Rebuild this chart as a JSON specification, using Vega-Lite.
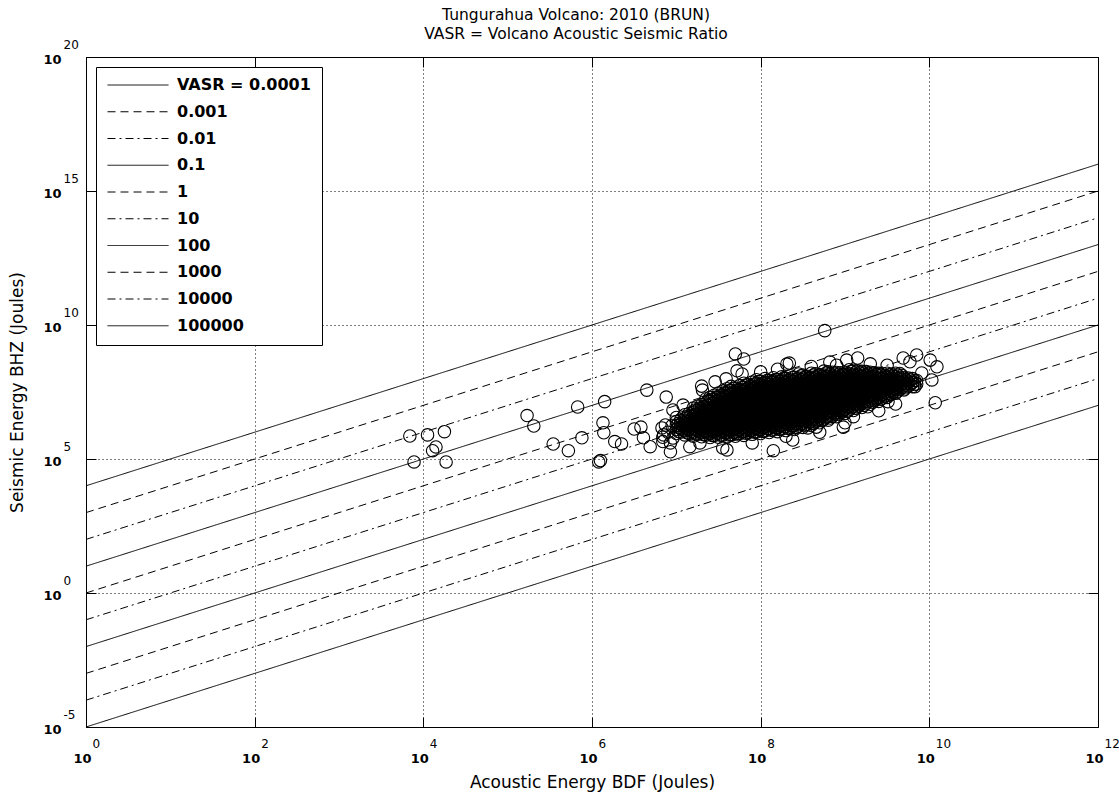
{
"$schema": "https://vega.github.io/schema/vega-lite/v6.json",
"width": 1012, "height": 670,
"autosize": {"type": "none"},
"padding": {"left": 86, "top": 57, "right": 21, "bottom": 66},
"background": "white",
"title": {"text": ["Tungurahua Volcano: 2010 (BRUN)", "VASR = Volcano Acoustic Seismic Ratio"], "frame": "group", "anchor": "middle", "baseline": "bottom", "offset": -20, "dx": -16, "font": "DejaVu Sans", "fontSize": 15.5, "fontWeight": "normal", "color": "#000", "lineHeight": 19.6},
"config": {
  "view": {"stroke": "#000", "strokeWidth": 1},
  "axis": {"domain": false, "labelFont": "DejaVu Sans", "labelColor": "#000", "tickColor": "#000", "labelOverlap": false, "labelFlush": false, "labelBound": false, "titleColor": "#000", "titleFont": "DejaVu Sans", "titleFontWeight": "normal"},
  "legend": {"labelFont": "DejaVu Sans", "labelColor": "#000"}
},
"datasets": {
"vasr_lines": [
{"vasr":0.0001,"logA":0,"logS":4},{"vasr":0.0001,"logA":12,"logS":16},
{"vasr":0.001,"logA":0,"logS":3},{"vasr":0.001,"logA":12,"logS":15},
{"vasr":0.01,"logA":0,"logS":2},{"vasr":0.01,"logA":12,"logS":14},
{"vasr":0.1,"logA":0,"logS":1},{"vasr":0.1,"logA":12,"logS":13},
{"vasr":1,"logA":0,"logS":0},{"vasr":1,"logA":12,"logS":12},
{"vasr":10,"logA":0,"logS":-1},{"vasr":10,"logA":12,"logS":11},
{"vasr":100,"logA":0,"logS":-2},{"vasr":100,"logA":12,"logS":10},
{"vasr":1000,"logA":0,"logS":-3},{"vasr":1000,"logA":12,"logS":9},
{"vasr":10000,"logA":0,"logS":-4},{"vasr":10000,"logA":12,"logS":8},
{"vasr":100000,"logA":0,"logS":-5},{"vasr":100000,"logA":12,"logS":7}
],
"energy": [
{"logA":3.84,"logS":5.86},{"logA":4.05,"logS":5.9},{"logA":4.25,"logS":6.02},{"logA":4.15,"logS":5.45},{"logA":4.11,"logS":5.31},{"logA":3.89,"logS":4.89},{"logA":4.27,"logS":4.89},
{"logA":5.23,"logS":6.62},{"logA":5.31,"logS":6.23},{"logA":5.83,"logS":6.94},{"logA":6.15,"logS":7.14},{"logA":6.13,"logS":6.35},{"logA":6.14,"logS":5.98},{"logA":5.88,"logS":5.79},{"logA":5.54,"logS":5.56},{"logA":5.72,"logS":5.31},{"logA":6.27,"logS":5.65},{"logA":6.35,"logS":5.56},{"logA":6.1,"logS":4.94},{"logA":6.08,"logS":4.89},
{"logA":6.5,"logS":6.12},{"logA":6.58,"logS":6.19},{"logA":6.61,"logS":5.79},{"logA":6.69,"logS":5.46},{"logA":6.83,"logS":6.16},{"logA":6.93,"logS":5.27},
{"logA":8.76,"logS":9.79},{"logA":7.7,"logS":8.92},{"logA":7.8,"logS":8.73},{"logA":6.65,"logS":7.57},{"logA":6.88,"logS":7.31},{"logA":7.72,"logS":8.29},{"logA":7.78,"logS":8.17},{"logA":7.59,"logS":7.99},{"logA":7.46,"logS":7.88},{"logA":7.3,"logS":7.72},{"logA":7.31,"logS":7.57},{"logA":8.34,"logS":8.58},{"logA":8.82,"logS":8.62},{"logA":9.02,"logS":8.69},{"logA":9.15,"logS":8.77},
{"logA":6.84,"logS":5.65},{"logA":6.93,"logS":5.6},{"logA":7.16,"logS":5.46},{"logA":7.28,"logS":5.6},{"logA":7.55,"logS":5.41},{"logA":7.6,"logS":5.34},{"logA":8.15,"logS":5.31},{"logA":8.38,"logS":5.71},{"logA":8.56,"logS":6.16},{"logA":8.66,"logS":6.19},{"logA":8.98,"logS":6.19},{"logA":9.1,"logS":6.58},{"logA":6.96,"logS":6.83},{"logA":7.08,"logS":7.01},
{"logA":8.31,"logS":8.54},{"logA":9.69,"logS":8.77},{"logA":9.85,"logS":8.88},{"logA":10.01,"logS":8.69},{"logA":10.09,"logS":8.44},{"logA":10.03,"logS":7.95},{"logA":9.83,"logS":7.7},{"logA":10.07,"logS":7.1},{"logA":9.51,"logS":7.14},{"logA":9.77,"logS":8.63},{"logA":9.91,"logS":8.21},{"logA":9.27,"logS":6.95},
{"logA":8.0,"logS":8.25},{"logA":8.2,"logS":8.35},{"logA":8.6,"logS":8.45},{"logA":8.9,"logS":8.5},{"logA":9.3,"logS":8.55},{"logA":9.5,"logS":8.5},{"logA":7.9,"logS":5.6},{"logA":8.3,"logS":5.85},{"logA":8.7,"logS":6.0},{"logA":9.0,"logS":6.35},{"logA":9.4,"logS":6.8},{"logA":9.6,"logS":7.05},{"logA":6.9,"logS":6.0},{"logA":6.95,"logS":6.25},{"logA":7.0,"logS":6.55},{"logA":6.85,"logS":5.9},{"logA":6.84,"logS":5.81},{"logA":6.96,"logS":5.78},{"logA":6.87,"logS":6.27},
{"logA":7.0,"logS":5.95},{"logA":7.0,"logS":6.1},{"logA":7.0,"logS":6.25},{"logA":7.0,"logS":6.4},
{"logA":7.05,"logS":6.0},{"logA":7.05,"logS":6.15},{"logA":7.05,"logS":6.3},{"logA":7.05,"logS":6.45},
{"logA":7.1,"logS":5.9},{"logA":7.1,"logS":6.05},{"logA":7.1,"logS":6.2},{"logA":7.1,"logS":6.35},{"logA":7.1,"logS":6.5},{"logA":7.1,"logS":6.65},
{"logA":7.15,"logS":5.95},{"logA":7.15,"logS":6.1},{"logA":7.15,"logS":6.25},{"logA":7.15,"logS":6.4},{"logA":7.15,"logS":6.55},{"logA":7.15,"logS":6.7},
{"logA":7.2,"logS":5.85},{"logA":7.2,"logS":6.0},{"logA":7.2,"logS":6.15},{"logA":7.2,"logS":6.3},{"logA":7.2,"logS":6.45},{"logA":7.2,"logS":6.6},{"logA":7.2,"logS":6.75},{"logA":7.2,"logS":6.9},
{"logA":7.25,"logS":5.92},{"logA":7.25,"logS":6.07},{"logA":7.25,"logS":6.22},{"logA":7.25,"logS":6.37},{"logA":7.25,"logS":6.52},{"logA":7.25,"logS":6.67},{"logA":7.25,"logS":6.82},{"logA":7.25,"logS":6.97},
{"logA":7.3,"logS":5.83},{"logA":7.3,"logS":5.98},{"logA":7.3,"logS":6.13},{"logA":7.3,"logS":6.28},{"logA":7.3,"logS":6.43},{"logA":7.3,"logS":6.58},{"logA":7.3,"logS":6.73},{"logA":7.3,"logS":6.88},{"logA":7.3,"logS":7.03},
{"logA":7.35,"logS":5.89},{"logA":7.35,"logS":6.04},{"logA":7.35,"logS":6.19},{"logA":7.35,"logS":6.34},{"logA":7.35,"logS":6.49},{"logA":7.35,"logS":6.64},{"logA":7.35,"logS":6.79},{"logA":7.35,"logS":6.94},{"logA":7.35,"logS":7.09},{"logA":7.35,"logS":7.24},
{"logA":7.4,"logS":5.8},{"logA":7.4,"logS":5.95},{"logA":7.4,"logS":6.1},{"logA":7.4,"logS":6.25},{"logA":7.4,"logS":6.4},{"logA":7.4,"logS":6.55},{"logA":7.4,"logS":6.7},{"logA":7.4,"logS":6.85},{"logA":7.4,"logS":7.0},{"logA":7.4,"logS":7.15},{"logA":7.4,"logS":7.3},
{"logA":7.45,"logS":5.88},{"logA":7.45,"logS":6.03},{"logA":7.45,"logS":6.18},{"logA":7.45,"logS":6.33},{"logA":7.45,"logS":6.48},{"logA":7.45,"logS":6.63},{"logA":7.45,"logS":6.78},{"logA":7.45,"logS":6.93},{"logA":7.45,"logS":7.08},{"logA":7.45,"logS":7.23},{"logA":7.45,"logS":7.38},
{"logA":7.5,"logS":5.81},{"logA":7.5,"logS":5.96},{"logA":7.5,"logS":6.11},{"logA":7.5,"logS":6.26},{"logA":7.5,"logS":6.41},{"logA":7.5,"logS":6.56},{"logA":7.5,"logS":6.71},{"logA":7.5,"logS":6.86},{"logA":7.5,"logS":7.01},{"logA":7.5,"logS":7.16},{"logA":7.5,"logS":7.31},{"logA":7.5,"logS":7.46},
{"logA":7.55,"logS":5.89},{"logA":7.55,"logS":6.04},{"logA":7.55,"logS":6.19},{"logA":7.55,"logS":6.34},{"logA":7.55,"logS":6.49},{"logA":7.55,"logS":6.64},{"logA":7.55,"logS":6.79},{"logA":7.55,"logS":6.94},{"logA":7.55,"logS":7.09},{"logA":7.55,"logS":7.24},{"logA":7.55,"logS":7.39},{"logA":7.55,"logS":7.54},
{"logA":7.6,"logS":5.82},{"logA":7.6,"logS":5.97},{"logA":7.6,"logS":6.12},{"logA":7.6,"logS":6.27},{"logA":7.6,"logS":6.42},{"logA":7.6,"logS":6.57},{"logA":7.6,"logS":6.72},{"logA":7.6,"logS":6.87},{"logA":7.6,"logS":7.02},{"logA":7.6,"logS":7.17},{"logA":7.6,"logS":7.32},{"logA":7.6,"logS":7.47},{"logA":7.6,"logS":7.62},
{"logA":7.65,"logS":5.91},{"logA":7.65,"logS":6.06},{"logA":7.65,"logS":6.21},{"logA":7.65,"logS":6.36},{"logA":7.65,"logS":6.51},{"logA":7.65,"logS":6.66},{"logA":7.65,"logS":6.81},{"logA":7.65,"logS":6.96},{"logA":7.65,"logS":7.11},{"logA":7.65,"logS":7.26},{"logA":7.65,"logS":7.41},{"logA":7.65,"logS":7.56},{"logA":7.65,"logS":7.71},
{"logA":7.7,"logS":5.85},{"logA":7.7,"logS":6.0},{"logA":7.7,"logS":6.15},{"logA":7.7,"logS":6.3},{"logA":7.7,"logS":6.45},{"logA":7.7,"logS":6.6},{"logA":7.7,"logS":6.75},{"logA":7.7,"logS":6.9},{"logA":7.7,"logS":7.05},{"logA":7.7,"logS":7.2},{"logA":7.7,"logS":7.35},{"logA":7.7,"logS":7.5},{"logA":7.7,"logS":7.65},
{"logA":7.75,"logS":5.94},{"logA":7.75,"logS":6.09},{"logA":7.75,"logS":6.24},{"logA":7.75,"logS":6.39},{"logA":7.75,"logS":6.54},{"logA":7.75,"logS":6.69},{"logA":7.75,"logS":6.84},{"logA":7.75,"logS":6.99},{"logA":7.75,"logS":7.14},{"logA":7.75,"logS":7.29},{"logA":7.75,"logS":7.44},{"logA":7.75,"logS":7.59},{"logA":7.75,"logS":7.74},
{"logA":7.8,"logS":5.88},{"logA":7.8,"logS":6.03},{"logA":7.8,"logS":6.18},{"logA":7.8,"logS":6.33},{"logA":7.8,"logS":6.48},{"logA":7.8,"logS":6.63},{"logA":7.8,"logS":6.78},{"logA":7.8,"logS":6.93},{"logA":7.8,"logS":7.08},{"logA":7.8,"logS":7.23},{"logA":7.8,"logS":7.38},{"logA":7.8,"logS":7.53},{"logA":7.8,"logS":7.68},{"logA":7.8,"logS":7.83},
{"logA":7.85,"logS":5.98},{"logA":7.85,"logS":6.13},{"logA":7.85,"logS":6.28},{"logA":7.85,"logS":6.43},{"logA":7.85,"logS":6.58},{"logA":7.85,"logS":6.73},{"logA":7.85,"logS":6.88},{"logA":7.85,"logS":7.03},{"logA":7.85,"logS":7.18},{"logA":7.85,"logS":7.33},{"logA":7.85,"logS":7.48},{"logA":7.85,"logS":7.63},{"logA":7.85,"logS":7.78},
{"logA":7.9,"logS":5.92},{"logA":7.9,"logS":6.07},{"logA":7.9,"logS":6.22},{"logA":7.9,"logS":6.37},{"logA":7.9,"logS":6.52},{"logA":7.9,"logS":6.67},{"logA":7.9,"logS":6.82},{"logA":7.9,"logS":6.97},{"logA":7.9,"logS":7.12},{"logA":7.9,"logS":7.27},{"logA":7.9,"logS":7.42},{"logA":7.9,"logS":7.57},{"logA":7.9,"logS":7.72},{"logA":7.9,"logS":7.87},
{"logA":7.95,"logS":6.01},{"logA":7.95,"logS":6.16},{"logA":7.95,"logS":6.31},{"logA":7.95,"logS":6.46},{"logA":7.95,"logS":6.61},{"logA":7.95,"logS":6.76},{"logA":7.95,"logS":6.91},{"logA":7.95,"logS":7.06},{"logA":7.95,"logS":7.21},{"logA":7.95,"logS":7.36},{"logA":7.95,"logS":7.51},{"logA":7.95,"logS":7.66},{"logA":7.95,"logS":7.81},{"logA":7.95,"logS":7.96},
{"logA":8.0,"logS":5.95},{"logA":8.0,"logS":6.1},{"logA":8.0,"logS":6.25},{"logA":8.0,"logS":6.4},{"logA":8.0,"logS":6.55},{"logA":8.0,"logS":6.7},{"logA":8.0,"logS":6.85},{"logA":8.0,"logS":7.0},{"logA":8.0,"logS":7.15},{"logA":8.0,"logS":7.3},{"logA":8.0,"logS":7.45},{"logA":8.0,"logS":7.6},{"logA":8.0,"logS":7.75},{"logA":8.0,"logS":7.9},
{"logA":8.05,"logS":6.05},{"logA":8.05,"logS":6.2},{"logA":8.05,"logS":6.35},{"logA":8.05,"logS":6.5},{"logA":8.05,"logS":6.65},{"logA":8.05,"logS":6.8},{"logA":8.05,"logS":6.95},{"logA":8.05,"logS":7.1},{"logA":8.05,"logS":7.25},{"logA":8.05,"logS":7.4},{"logA":8.05,"logS":7.55},{"logA":8.05,"logS":7.7},{"logA":8.05,"logS":7.85},{"logA":8.05,"logS":8.0},
{"logA":8.1,"logS":5.99},{"logA":8.1,"logS":6.14},{"logA":8.1,"logS":6.29},{"logA":8.1,"logS":6.44},{"logA":8.1,"logS":6.59},{"logA":8.1,"logS":6.74},{"logA":8.1,"logS":6.89},{"logA":8.1,"logS":7.04},{"logA":8.1,"logS":7.19},{"logA":8.1,"logS":7.34},{"logA":8.1,"logS":7.49},{"logA":8.1,"logS":7.64},{"logA":8.1,"logS":7.79},{"logA":8.1,"logS":7.94},
{"logA":8.15,"logS":6.08},{"logA":8.15,"logS":6.23},{"logA":8.15,"logS":6.38},{"logA":8.15,"logS":6.53},{"logA":8.15,"logS":6.68},{"logA":8.15,"logS":6.83},{"logA":8.15,"logS":6.98},{"logA":8.15,"logS":7.13},{"logA":8.15,"logS":7.28},{"logA":8.15,"logS":7.43},{"logA":8.15,"logS":7.58},{"logA":8.15,"logS":7.73},{"logA":8.15,"logS":7.88},{"logA":8.15,"logS":8.03},
{"logA":8.2,"logS":6.02},{"logA":8.2,"logS":6.17},{"logA":8.2,"logS":6.32},{"logA":8.2,"logS":6.47},{"logA":8.2,"logS":6.62},{"logA":8.2,"logS":6.77},{"logA":8.2,"logS":6.92},{"logA":8.2,"logS":7.07},{"logA":8.2,"logS":7.22},{"logA":8.2,"logS":7.37},{"logA":8.2,"logS":7.52},{"logA":8.2,"logS":7.67},{"logA":8.2,"logS":7.82},{"logA":8.2,"logS":7.97},
{"logA":8.25,"logS":6.12},{"logA":8.25,"logS":6.27},{"logA":8.25,"logS":6.42},{"logA":8.25,"logS":6.57},{"logA":8.25,"logS":6.72},{"logA":8.25,"logS":6.87},{"logA":8.25,"logS":7.02},{"logA":8.25,"logS":7.17},{"logA":8.25,"logS":7.32},{"logA":8.25,"logS":7.47},{"logA":8.25,"logS":7.62},{"logA":8.25,"logS":7.77},{"logA":8.25,"logS":7.92},{"logA":8.25,"logS":8.07},
{"logA":8.3,"logS":6.06},{"logA":8.3,"logS":6.21},{"logA":8.3,"logS":6.36},{"logA":8.3,"logS":6.51},{"logA":8.3,"logS":6.66},{"logA":8.3,"logS":6.81},{"logA":8.3,"logS":6.96},{"logA":8.3,"logS":7.11},{"logA":8.3,"logS":7.26},{"logA":8.3,"logS":7.41},{"logA":8.3,"logS":7.56},{"logA":8.3,"logS":7.71},{"logA":8.3,"logS":7.86},{"logA":8.3,"logS":8.01},
{"logA":8.35,"logS":6.16},{"logA":8.35,"logS":6.31},{"logA":8.35,"logS":6.46},{"logA":8.35,"logS":6.61},{"logA":8.35,"logS":6.76},{"logA":8.35,"logS":6.91},{"logA":8.35,"logS":7.06},{"logA":8.35,"logS":7.21},{"logA":8.35,"logS":7.36},{"logA":8.35,"logS":7.51},{"logA":8.35,"logS":7.66},{"logA":8.35,"logS":7.81},{"logA":8.35,"logS":7.96},{"logA":8.35,"logS":8.11},
{"logA":8.4,"logS":6.1},{"logA":8.4,"logS":6.25},{"logA":8.4,"logS":6.4},{"logA":8.4,"logS":6.55},{"logA":8.4,"logS":6.7},{"logA":8.4,"logS":6.85},{"logA":8.4,"logS":7.0},{"logA":8.4,"logS":7.15},{"logA":8.4,"logS":7.3},{"logA":8.4,"logS":7.45},{"logA":8.4,"logS":7.6},{"logA":8.4,"logS":7.75},{"logA":8.4,"logS":7.9},{"logA":8.4,"logS":8.05},
{"logA":8.45,"logS":6.22},{"logA":8.45,"logS":6.37},{"logA":8.45,"logS":6.52},{"logA":8.45,"logS":6.67},{"logA":8.45,"logS":6.82},{"logA":8.45,"logS":6.97},{"logA":8.45,"logS":7.12},{"logA":8.45,"logS":7.27},{"logA":8.45,"logS":7.42},{"logA":8.45,"logS":7.57},{"logA":8.45,"logS":7.72},{"logA":8.45,"logS":7.87},{"logA":8.45,"logS":8.02},{"logA":8.45,"logS":8.17},
{"logA":8.5,"logS":6.18},{"logA":8.5,"logS":6.33},{"logA":8.5,"logS":6.48},{"logA":8.5,"logS":6.63},{"logA":8.5,"logS":6.78},{"logA":8.5,"logS":6.93},{"logA":8.5,"logS":7.08},{"logA":8.5,"logS":7.23},{"logA":8.5,"logS":7.38},{"logA":8.5,"logS":7.53},{"logA":8.5,"logS":7.68},{"logA":8.5,"logS":7.83},{"logA":8.5,"logS":7.98},{"logA":8.5,"logS":8.13},
{"logA":8.55,"logS":6.29},{"logA":8.55,"logS":6.44},{"logA":8.55,"logS":6.59},{"logA":8.55,"logS":6.74},{"logA":8.55,"logS":6.89},{"logA":8.55,"logS":7.04},{"logA":8.55,"logS":7.19},{"logA":8.55,"logS":7.34},{"logA":8.55,"logS":7.49},{"logA":8.55,"logS":7.64},{"logA":8.55,"logS":7.79},{"logA":8.55,"logS":7.94},{"logA":8.55,"logS":8.09},
{"logA":8.6,"logS":6.25},{"logA":8.6,"logS":6.4},{"logA":8.6,"logS":6.55},{"logA":8.6,"logS":6.7},{"logA":8.6,"logS":6.85},{"logA":8.6,"logS":7.0},{"logA":8.6,"logS":7.15},{"logA":8.6,"logS":7.3},{"logA":8.6,"logS":7.45},{"logA":8.6,"logS":7.6},{"logA":8.6,"logS":7.75},{"logA":8.6,"logS":7.9},{"logA":8.6,"logS":8.05},{"logA":8.6,"logS":8.2},
{"logA":8.65,"logS":6.38},{"logA":8.65,"logS":6.53},{"logA":8.65,"logS":6.68},{"logA":8.65,"logS":6.83},{"logA":8.65,"logS":6.98},{"logA":8.65,"logS":7.13},{"logA":8.65,"logS":7.28},{"logA":8.65,"logS":7.43},{"logA":8.65,"logS":7.58},{"logA":8.65,"logS":7.73},{"logA":8.65,"logS":7.88},{"logA":8.65,"logS":8.03},{"logA":8.65,"logS":8.18},
{"logA":8.7,"logS":6.35},{"logA":8.7,"logS":6.5},{"logA":8.7,"logS":6.65},{"logA":8.7,"logS":6.8},{"logA":8.7,"logS":6.95},{"logA":8.7,"logS":7.1},{"logA":8.7,"logS":7.25},{"logA":8.7,"logS":7.4},{"logA":8.7,"logS":7.55},{"logA":8.7,"logS":7.7},{"logA":8.7,"logS":7.85},{"logA":8.7,"logS":8.0},{"logA":8.7,"logS":8.15},
{"logA":8.75,"logS":6.48},{"logA":8.75,"logS":6.63},{"logA":8.75,"logS":6.78},{"logA":8.75,"logS":6.93},{"logA":8.75,"logS":7.08},{"logA":8.75,"logS":7.23},{"logA":8.75,"logS":7.38},{"logA":8.75,"logS":7.53},{"logA":8.75,"logS":7.68},{"logA":8.75,"logS":7.83},{"logA":8.75,"logS":7.98},{"logA":8.75,"logS":8.13},{"logA":8.75,"logS":8.28},
{"logA":8.8,"logS":6.45},{"logA":8.8,"logS":6.6},{"logA":8.8,"logS":6.75},{"logA":8.8,"logS":6.9},{"logA":8.8,"logS":7.05},{"logA":8.8,"logS":7.2},{"logA":8.8,"logS":7.35},{"logA":8.8,"logS":7.5},{"logA":8.8,"logS":7.65},{"logA":8.8,"logS":7.8},{"logA":8.8,"logS":7.95},{"logA":8.8,"logS":8.1},{"logA":8.8,"logS":8.25},
{"logA":8.85,"logS":6.59},{"logA":8.85,"logS":6.74},{"logA":8.85,"logS":6.89},{"logA":8.85,"logS":7.04},{"logA":8.85,"logS":7.19},{"logA":8.85,"logS":7.34},{"logA":8.85,"logS":7.49},{"logA":8.85,"logS":7.64},{"logA":8.85,"logS":7.79},{"logA":8.85,"logS":7.94},{"logA":8.85,"logS":8.09},{"logA":8.85,"logS":8.24},
{"logA":8.9,"logS":6.58},{"logA":8.9,"logS":6.73},{"logA":8.9,"logS":6.88},{"logA":8.9,"logS":7.03},{"logA":8.9,"logS":7.18},{"logA":8.9,"logS":7.33},{"logA":8.9,"logS":7.48},{"logA":8.9,"logS":7.63},{"logA":8.9,"logS":7.78},{"logA":8.9,"logS":7.93},{"logA":8.9,"logS":8.08},{"logA":8.9,"logS":8.23},
{"logA":8.95,"logS":6.72},{"logA":8.95,"logS":6.87},{"logA":8.95,"logS":7.02},{"logA":8.95,"logS":7.17},{"logA":8.95,"logS":7.32},{"logA":8.95,"logS":7.47},{"logA":8.95,"logS":7.62},{"logA":8.95,"logS":7.77},{"logA":8.95,"logS":7.92},{"logA":8.95,"logS":8.07},{"logA":8.95,"logS":8.22},
{"logA":9.0,"logS":6.7},{"logA":9.0,"logS":6.85},{"logA":9.0,"logS":7.0},{"logA":9.0,"logS":7.15},{"logA":9.0,"logS":7.3},{"logA":9.0,"logS":7.45},{"logA":9.0,"logS":7.6},{"logA":9.0,"logS":7.75},{"logA":9.0,"logS":7.9},{"logA":9.0,"logS":8.05},{"logA":9.0,"logS":8.2},
{"logA":9.05,"logS":6.83},{"logA":9.05,"logS":6.98},{"logA":9.05,"logS":7.13},{"logA":9.05,"logS":7.28},{"logA":9.05,"logS":7.43},{"logA":9.05,"logS":7.58},{"logA":9.05,"logS":7.73},{"logA":9.05,"logS":7.88},{"logA":9.05,"logS":8.03},{"logA":9.05,"logS":8.18},{"logA":9.05,"logS":8.33},
{"logA":9.1,"logS":6.81},{"logA":9.1,"logS":6.96},{"logA":9.1,"logS":7.11},{"logA":9.1,"logS":7.26},{"logA":9.1,"logS":7.41},{"logA":9.1,"logS":7.56},{"logA":9.1,"logS":7.71},{"logA":9.1,"logS":7.86},{"logA":9.1,"logS":8.01},{"logA":9.1,"logS":8.16},{"logA":9.1,"logS":8.31},
{"logA":9.15,"logS":6.94},{"logA":9.15,"logS":7.09},{"logA":9.15,"logS":7.24},{"logA":9.15,"logS":7.39},{"logA":9.15,"logS":7.54},{"logA":9.15,"logS":7.69},{"logA":9.15,"logS":7.84},{"logA":9.15,"logS":7.99},{"logA":9.15,"logS":8.14},{"logA":9.15,"logS":8.29},
{"logA":9.2,"logS":6.92},{"logA":9.2,"logS":7.07},{"logA":9.2,"logS":7.22},{"logA":9.2,"logS":7.37},{"logA":9.2,"logS":7.52},{"logA":9.2,"logS":7.67},{"logA":9.2,"logS":7.82},{"logA":9.2,"logS":7.97},{"logA":9.2,"logS":8.12},{"logA":9.2,"logS":8.27},
{"logA":9.25,"logS":7.06},{"logA":9.25,"logS":7.21},{"logA":9.25,"logS":7.36},{"logA":9.25,"logS":7.51},{"logA":9.25,"logS":7.66},{"logA":9.25,"logS":7.81},{"logA":9.25,"logS":7.96},{"logA":9.25,"logS":8.11},{"logA":9.25,"logS":8.26},
{"logA":9.3,"logS":7.04},{"logA":9.3,"logS":7.19},{"logA":9.3,"logS":7.34},{"logA":9.3,"logS":7.49},{"logA":9.3,"logS":7.64},{"logA":9.3,"logS":7.79},{"logA":9.3,"logS":7.94},{"logA":9.3,"logS":8.09},{"logA":9.3,"logS":8.24},
{"logA":9.35,"logS":7.17},{"logA":9.35,"logS":7.32},{"logA":9.35,"logS":7.47},{"logA":9.35,"logS":7.62},{"logA":9.35,"logS":7.77},{"logA":9.35,"logS":7.92},{"logA":9.35,"logS":8.07},{"logA":9.35,"logS":8.22},
{"logA":9.4,"logS":7.15},{"logA":9.4,"logS":7.3},{"logA":9.4,"logS":7.45},{"logA":9.4,"logS":7.6},{"logA":9.4,"logS":7.75},{"logA":9.4,"logS":7.9},{"logA":9.4,"logS":8.05},{"logA":9.4,"logS":8.2},
{"logA":9.45,"logS":7.28},{"logA":9.45,"logS":7.43},{"logA":9.45,"logS":7.58},{"logA":9.45,"logS":7.73},{"logA":9.45,"logS":7.88},{"logA":9.45,"logS":8.03},{"logA":9.45,"logS":8.18},
{"logA":9.5,"logS":7.3},{"logA":9.5,"logS":7.45},{"logA":9.5,"logS":7.6},{"logA":9.5,"logS":7.75},{"logA":9.5,"logS":7.9},{"logA":9.5,"logS":8.05},{"logA":9.5,"logS":8.2},
{"logA":9.55,"logS":7.42},{"logA":9.55,"logS":7.57},{"logA":9.55,"logS":7.72},{"logA":9.55,"logS":7.87},{"logA":9.55,"logS":8.02},{"logA":9.55,"logS":8.17},
{"logA":9.6,"logS":7.45},{"logA":9.6,"logS":7.6},{"logA":9.6,"logS":7.75},{"logA":9.6,"logS":7.9},{"logA":9.6,"logS":8.05},{"logA":9.6,"logS":8.2},
{"logA":9.65,"logS":7.59},{"logA":9.65,"logS":7.74},{"logA":9.65,"logS":7.89},{"logA":9.65,"logS":8.04},{"logA":9.65,"logS":8.19},
{"logA":9.7,"logS":7.58},{"logA":9.7,"logS":7.73},{"logA":9.7,"logS":7.88},{"logA":9.7,"logS":8.03},
{"logA":9.75,"logS":7.72},{"logA":9.75,"logS":7.87},{"logA":9.75,"logS":8.02},
{"logA":9.8,"logS":7.7},{"logA":9.8,"logS":7.85},{"logA":9.8,"logS":8.0},
{"logA":9.85,"logS":7.8},{"logA":9.85,"logS":7.93},
{"logA":7.025,"logS":6.03},{"logA":7.025,"logS":6.18},{"logA":7.025,"logS":6.33},
{"logA":7.075,"logS":6.08},{"logA":7.075,"logS":6.23},{"logA":7.075,"logS":6.38},
{"logA":7.125,"logS":5.98},{"logA":7.125,"logS":6.13},{"logA":7.125,"logS":6.28},{"logA":7.125,"logS":6.43},{"logA":7.125,"logS":6.58},
{"logA":7.175,"logS":6.03},{"logA":7.175,"logS":6.18},{"logA":7.175,"logS":6.33},{"logA":7.175,"logS":6.48},{"logA":7.175,"logS":6.63},
{"logA":7.225,"logS":5.93},{"logA":7.225,"logS":6.08},{"logA":7.225,"logS":6.23},{"logA":7.225,"logS":6.38},{"logA":7.225,"logS":6.53},{"logA":7.225,"logS":6.68},{"logA":7.225,"logS":6.83},
{"logA":7.275,"logS":6.0},{"logA":7.275,"logS":6.15},{"logA":7.275,"logS":6.3},{"logA":7.275,"logS":6.45},{"logA":7.275,"logS":6.6},{"logA":7.275,"logS":6.75},{"logA":7.275,"logS":6.9},
{"logA":7.325,"logS":5.91},{"logA":7.325,"logS":6.06},{"logA":7.325,"logS":6.21},{"logA":7.325,"logS":6.36},{"logA":7.325,"logS":6.51},{"logA":7.325,"logS":6.66},{"logA":7.325,"logS":6.81},{"logA":7.325,"logS":6.96},
{"logA":7.375,"logS":5.97},{"logA":7.375,"logS":6.12},{"logA":7.375,"logS":6.27},{"logA":7.375,"logS":6.42},{"logA":7.375,"logS":6.57},{"logA":7.375,"logS":6.72},{"logA":7.375,"logS":6.87},{"logA":7.375,"logS":7.02},{"logA":7.375,"logS":7.17},
{"logA":7.425,"logS":5.88},{"logA":7.425,"logS":6.03},{"logA":7.425,"logS":6.18},{"logA":7.425,"logS":6.33},{"logA":7.425,"logS":6.48},{"logA":7.425,"logS":6.63},{"logA":7.425,"logS":6.78},{"logA":7.425,"logS":6.93},{"logA":7.425,"logS":7.08},{"logA":7.425,"logS":7.23},
{"logA":7.475,"logS":5.96},{"logA":7.475,"logS":6.11},{"logA":7.475,"logS":6.26},{"logA":7.475,"logS":6.41},{"logA":7.475,"logS":6.56},{"logA":7.475,"logS":6.71},{"logA":7.475,"logS":6.86},{"logA":7.475,"logS":7.01},{"logA":7.475,"logS":7.16},{"logA":7.475,"logS":7.31},
{"logA":7.525,"logS":5.89},{"logA":7.525,"logS":6.04},{"logA":7.525,"logS":6.19},{"logA":7.525,"logS":6.34},{"logA":7.525,"logS":6.49},{"logA":7.525,"logS":6.64},{"logA":7.525,"logS":6.79},{"logA":7.525,"logS":6.94},{"logA":7.525,"logS":7.09},{"logA":7.525,"logS":7.24},{"logA":7.525,"logS":7.39},
{"logA":7.575,"logS":5.97},{"logA":7.575,"logS":6.12},{"logA":7.575,"logS":6.27},{"logA":7.575,"logS":6.42},{"logA":7.575,"logS":6.57},{"logA":7.575,"logS":6.72},{"logA":7.575,"logS":6.87},{"logA":7.575,"logS":7.02},{"logA":7.575,"logS":7.17},{"logA":7.575,"logS":7.32},{"logA":7.575,"logS":7.47},
{"logA":7.625,"logS":5.9},{"logA":7.625,"logS":6.05},{"logA":7.625,"logS":6.2},{"logA":7.625,"logS":6.35},{"logA":7.625,"logS":6.5},{"logA":7.625,"logS":6.65},{"logA":7.625,"logS":6.8},{"logA":7.625,"logS":6.95},{"logA":7.625,"logS":7.1},{"logA":7.625,"logS":7.25},{"logA":7.625,"logS":7.4},{"logA":7.625,"logS":7.55},
{"logA":7.675,"logS":5.99},{"logA":7.675,"logS":6.14},{"logA":7.675,"logS":6.29},{"logA":7.675,"logS":6.44},{"logA":7.675,"logS":6.59},{"logA":7.675,"logS":6.74},{"logA":7.675,"logS":6.89},{"logA":7.675,"logS":7.04},{"logA":7.675,"logS":7.19},{"logA":7.675,"logS":7.34},{"logA":7.675,"logS":7.49},{"logA":7.675,"logS":7.64},
{"logA":7.725,"logS":5.93},{"logA":7.725,"logS":6.08},{"logA":7.725,"logS":6.23},{"logA":7.725,"logS":6.38},{"logA":7.725,"logS":6.53},{"logA":7.725,"logS":6.68},{"logA":7.725,"logS":6.83},{"logA":7.725,"logS":6.98},{"logA":7.725,"logS":7.13},{"logA":7.725,"logS":7.28},{"logA":7.725,"logS":7.43},{"logA":7.725,"logS":7.58},
{"logA":7.775,"logS":6.02},{"logA":7.775,"logS":6.17},{"logA":7.775,"logS":6.32},{"logA":7.775,"logS":6.47},{"logA":7.775,"logS":6.62},{"logA":7.775,"logS":6.77},{"logA":7.775,"logS":6.92},{"logA":7.775,"logS":7.07},{"logA":7.775,"logS":7.22},{"logA":7.775,"logS":7.37},{"logA":7.775,"logS":7.52},{"logA":7.775,"logS":7.67},
{"logA":7.825,"logS":5.96},{"logA":7.825,"logS":6.11},{"logA":7.825,"logS":6.26},{"logA":7.825,"logS":6.41},{"logA":7.825,"logS":6.56},{"logA":7.825,"logS":6.71},{"logA":7.825,"logS":6.86},{"logA":7.825,"logS":7.01},{"logA":7.825,"logS":7.16},{"logA":7.825,"logS":7.31},{"logA":7.825,"logS":7.46},{"logA":7.825,"logS":7.61},{"logA":7.825,"logS":7.76},
{"logA":7.875,"logS":6.06},{"logA":7.875,"logS":6.21},{"logA":7.875,"logS":6.36},{"logA":7.875,"logS":6.51},{"logA":7.875,"logS":6.66},{"logA":7.875,"logS":6.81},{"logA":7.875,"logS":6.96},{"logA":7.875,"logS":7.11},{"logA":7.875,"logS":7.26},{"logA":7.875,"logS":7.41},{"logA":7.875,"logS":7.56},{"logA":7.875,"logS":7.71},
{"logA":7.925,"logS":6.0},{"logA":7.925,"logS":6.15},{"logA":7.925,"logS":6.3},{"logA":7.925,"logS":6.45},{"logA":7.925,"logS":6.6},{"logA":7.925,"logS":6.75},{"logA":7.925,"logS":6.9},{"logA":7.925,"logS":7.05},{"logA":7.925,"logS":7.2},{"logA":7.925,"logS":7.35},{"logA":7.925,"logS":7.5},{"logA":7.925,"logS":7.65},{"logA":7.925,"logS":7.8},
{"logA":7.975,"logS":6.09},{"logA":7.975,"logS":6.24},{"logA":7.975,"logS":6.39},{"logA":7.975,"logS":6.54},{"logA":7.975,"logS":6.69},{"logA":7.975,"logS":6.84},{"logA":7.975,"logS":6.99},{"logA":7.975,"logS":7.14},{"logA":7.975,"logS":7.29},{"logA":7.975,"logS":7.44},{"logA":7.975,"logS":7.59},{"logA":7.975,"logS":7.74},{"logA":7.975,"logS":7.89},
{"logA":8.025,"logS":6.03},{"logA":8.025,"logS":6.18},{"logA":8.025,"logS":6.33},{"logA":8.025,"logS":6.48},{"logA":8.025,"logS":6.63},{"logA":8.025,"logS":6.78},{"logA":8.025,"logS":6.93},{"logA":8.025,"logS":7.08},{"logA":8.025,"logS":7.23},{"logA":8.025,"logS":7.38},{"logA":8.025,"logS":7.53},{"logA":8.025,"logS":7.68},{"logA":8.025,"logS":7.83},
{"logA":8.075,"logS":6.13},{"logA":8.075,"logS":6.28},{"logA":8.075,"logS":6.43},{"logA":8.075,"logS":6.58},{"logA":8.075,"logS":6.73},{"logA":8.075,"logS":6.88},{"logA":8.075,"logS":7.03},{"logA":8.075,"logS":7.18},{"logA":8.075,"logS":7.33},{"logA":8.075,"logS":7.48},{"logA":8.075,"logS":7.63},{"logA":8.075,"logS":7.78},{"logA":8.075,"logS":7.93},
{"logA":8.125,"logS":6.07},{"logA":8.125,"logS":6.22},{"logA":8.125,"logS":6.37},{"logA":8.125,"logS":6.52},{"logA":8.125,"logS":6.67},{"logA":8.125,"logS":6.82},{"logA":8.125,"logS":6.97},{"logA":8.125,"logS":7.12},{"logA":8.125,"logS":7.27},{"logA":8.125,"logS":7.42},{"logA":8.125,"logS":7.57},{"logA":8.125,"logS":7.72},{"logA":8.125,"logS":7.87},
{"logA":8.175,"logS":6.16},{"logA":8.175,"logS":6.31},{"logA":8.175,"logS":6.46},{"logA":8.175,"logS":6.61},{"logA":8.175,"logS":6.76},{"logA":8.175,"logS":6.91},{"logA":8.175,"logS":7.06},{"logA":8.175,"logS":7.21},{"logA":8.175,"logS":7.36},{"logA":8.175,"logS":7.51},{"logA":8.175,"logS":7.66},{"logA":8.175,"logS":7.81},{"logA":8.175,"logS":7.96},
{"logA":8.225,"logS":6.1},{"logA":8.225,"logS":6.25},{"logA":8.225,"logS":6.4},{"logA":8.225,"logS":6.55},{"logA":8.225,"logS":6.7},{"logA":8.225,"logS":6.85},{"logA":8.225,"logS":7.0},{"logA":8.225,"logS":7.15},{"logA":8.225,"logS":7.3},{"logA":8.225,"logS":7.45},{"logA":8.225,"logS":7.6},{"logA":8.225,"logS":7.75},{"logA":8.225,"logS":7.9},
{"logA":8.275,"logS":6.2},{"logA":8.275,"logS":6.35},{"logA":8.275,"logS":6.5},{"logA":8.275,"logS":6.65},{"logA":8.275,"logS":6.8},{"logA":8.275,"logS":6.95},{"logA":8.275,"logS":7.1},{"logA":8.275,"logS":7.25},{"logA":8.275,"logS":7.4},{"logA":8.275,"logS":7.55},{"logA":8.275,"logS":7.7},{"logA":8.275,"logS":7.85},{"logA":8.275,"logS":8.0},
{"logA":8.325,"logS":6.14},{"logA":8.325,"logS":6.29},{"logA":8.325,"logS":6.44},{"logA":8.325,"logS":6.59},{"logA":8.325,"logS":6.74},{"logA":8.325,"logS":6.89},{"logA":8.325,"logS":7.04},{"logA":8.325,"logS":7.19},{"logA":8.325,"logS":7.34},{"logA":8.325,"logS":7.49},{"logA":8.325,"logS":7.64},{"logA":8.325,"logS":7.79},{"logA":8.325,"logS":7.94},
{"logA":8.375,"logS":6.24},{"logA":8.375,"logS":6.39},{"logA":8.375,"logS":6.54},{"logA":8.375,"logS":6.69},{"logA":8.375,"logS":6.84},{"logA":8.375,"logS":6.99},{"logA":8.375,"logS":7.14},{"logA":8.375,"logS":7.29},{"logA":8.375,"logS":7.44},{"logA":8.375,"logS":7.59},{"logA":8.375,"logS":7.74},{"logA":8.375,"logS":7.89},{"logA":8.375,"logS":8.04},
{"logA":8.425,"logS":6.18},{"logA":8.425,"logS":6.33},{"logA":8.425,"logS":6.48},{"logA":8.425,"logS":6.63},{"logA":8.425,"logS":6.78},{"logA":8.425,"logS":6.93},{"logA":8.425,"logS":7.08},{"logA":8.425,"logS":7.23},{"logA":8.425,"logS":7.38},{"logA":8.425,"logS":7.53},{"logA":8.425,"logS":7.68},{"logA":8.425,"logS":7.83},{"logA":8.425,"logS":7.98},
{"logA":8.475,"logS":6.3},{"logA":8.475,"logS":6.45},{"logA":8.475,"logS":6.6},{"logA":8.475,"logS":6.75},{"logA":8.475,"logS":6.9},{"logA":8.475,"logS":7.05},{"logA":8.475,"logS":7.2},{"logA":8.475,"logS":7.35},{"logA":8.475,"logS":7.5},{"logA":8.475,"logS":7.65},{"logA":8.475,"logS":7.8},{"logA":8.475,"logS":7.95},{"logA":8.475,"logS":8.1},
{"logA":8.525,"logS":6.26},{"logA":8.525,"logS":6.41},{"logA":8.525,"logS":6.56},{"logA":8.525,"logS":6.71},{"logA":8.525,"logS":6.86},{"logA":8.525,"logS":7.01},{"logA":8.525,"logS":7.16},{"logA":8.525,"logS":7.31},{"logA":8.525,"logS":7.46},{"logA":8.525,"logS":7.61},{"logA":8.525,"logS":7.76},{"logA":8.525,"logS":7.91},{"logA":8.525,"logS":8.06},
{"logA":8.575,"logS":6.37},{"logA":8.575,"logS":6.52},{"logA":8.575,"logS":6.67},{"logA":8.575,"logS":6.82},{"logA":8.575,"logS":6.97},{"logA":8.575,"logS":7.12},{"logA":8.575,"logS":7.27},{"logA":8.575,"logS":7.42},{"logA":8.575,"logS":7.57},{"logA":8.575,"logS":7.72},{"logA":8.575,"logS":7.87},{"logA":8.575,"logS":8.02},
{"logA":8.625,"logS":6.33},{"logA":8.625,"logS":6.48},{"logA":8.625,"logS":6.63},{"logA":8.625,"logS":6.78},{"logA":8.625,"logS":6.93},{"logA":8.625,"logS":7.08},{"logA":8.625,"logS":7.23},{"logA":8.625,"logS":7.38},{"logA":8.625,"logS":7.53},{"logA":8.625,"logS":7.68},{"logA":8.625,"logS":7.83},{"logA":8.625,"logS":7.98},{"logA":8.625,"logS":8.13},
{"logA":8.675,"logS":6.46},{"logA":8.675,"logS":6.61},{"logA":8.675,"logS":6.76},{"logA":8.675,"logS":6.91},{"logA":8.675,"logS":7.06},{"logA":8.675,"logS":7.21},{"logA":8.675,"logS":7.36},{"logA":8.675,"logS":7.51},{"logA":8.675,"logS":7.66},{"logA":8.675,"logS":7.81},{"logA":8.675,"logS":7.96},{"logA":8.675,"logS":8.11},
{"logA":8.725,"logS":6.43},{"logA":8.725,"logS":6.58},{"logA":8.725,"logS":6.73},{"logA":8.725,"logS":6.88},{"logA":8.725,"logS":7.03},{"logA":8.725,"logS":7.18},{"logA":8.725,"logS":7.33},{"logA":8.725,"logS":7.48},{"logA":8.725,"logS":7.63},{"logA":8.725,"logS":7.78},{"logA":8.725,"logS":7.93},{"logA":8.725,"logS":8.08},
{"logA":8.775,"logS":6.56},{"logA":8.775,"logS":6.71},{"logA":8.775,"logS":6.86},{"logA":8.775,"logS":7.01},{"logA":8.775,"logS":7.16},{"logA":8.775,"logS":7.31},{"logA":8.775,"logS":7.46},{"logA":8.775,"logS":7.61},{"logA":8.775,"logS":7.76},{"logA":8.775,"logS":7.91},{"logA":8.775,"logS":8.06},{"logA":8.775,"logS":8.21},
{"logA":8.825,"logS":6.53},{"logA":8.825,"logS":6.68},{"logA":8.825,"logS":6.83},{"logA":8.825,"logS":6.98},{"logA":8.825,"logS":7.13},{"logA":8.825,"logS":7.28},{"logA":8.825,"logS":7.43},{"logA":8.825,"logS":7.58},{"logA":8.825,"logS":7.73},{"logA":8.825,"logS":7.88},{"logA":8.825,"logS":8.03},{"logA":8.825,"logS":8.18},
{"logA":8.875,"logS":6.67},{"logA":8.875,"logS":6.82},{"logA":8.875,"logS":6.97},{"logA":8.875,"logS":7.12},{"logA":8.875,"logS":7.27},{"logA":8.875,"logS":7.42},{"logA":8.875,"logS":7.57},{"logA":8.875,"logS":7.72},{"logA":8.875,"logS":7.87},{"logA":8.875,"logS":8.02},{"logA":8.875,"logS":8.17},
{"logA":8.925,"logS":6.66},{"logA":8.925,"logS":6.81},{"logA":8.925,"logS":6.96},{"logA":8.925,"logS":7.11},{"logA":8.925,"logS":7.26},{"logA":8.925,"logS":7.41},{"logA":8.925,"logS":7.56},{"logA":8.925,"logS":7.71},{"logA":8.925,"logS":7.86},{"logA":8.925,"logS":8.01},{"logA":8.925,"logS":8.16},
{"logA":8.975,"logS":6.8},{"logA":8.975,"logS":6.95},{"logA":8.975,"logS":7.1},{"logA":8.975,"logS":7.25},{"logA":8.975,"logS":7.4},{"logA":8.975,"logS":7.55},{"logA":8.975,"logS":7.7},{"logA":8.975,"logS":7.85},{"logA":8.975,"logS":8.0},{"logA":8.975,"logS":8.15},
{"logA":9.025,"logS":6.78},{"logA":9.025,"logS":6.93},{"logA":9.025,"logS":7.08},{"logA":9.025,"logS":7.23},{"logA":9.025,"logS":7.38},{"logA":9.025,"logS":7.53},{"logA":9.025,"logS":7.68},{"logA":9.025,"logS":7.83},{"logA":9.025,"logS":7.98},{"logA":9.025,"logS":8.13},
{"logA":9.075,"logS":6.91},{"logA":9.075,"logS":7.06},{"logA":9.075,"logS":7.21},{"logA":9.075,"logS":7.36},{"logA":9.075,"logS":7.51},{"logA":9.075,"logS":7.66},{"logA":9.075,"logS":7.81},{"logA":9.075,"logS":7.96},{"logA":9.075,"logS":8.11},{"logA":9.075,"logS":8.26},
{"logA":9.125,"logS":6.89},{"logA":9.125,"logS":7.04},{"logA":9.125,"logS":7.19},{"logA":9.125,"logS":7.34},{"logA":9.125,"logS":7.49},{"logA":9.125,"logS":7.64},{"logA":9.125,"logS":7.79},{"logA":9.125,"logS":7.94},{"logA":9.125,"logS":8.09},{"logA":9.125,"logS":8.24},
{"logA":9.175,"logS":7.02},{"logA":9.175,"logS":7.17},{"logA":9.175,"logS":7.32},{"logA":9.175,"logS":7.47},{"logA":9.175,"logS":7.62},{"logA":9.175,"logS":7.77},{"logA":9.175,"logS":7.92},{"logA":9.175,"logS":8.07},{"logA":9.175,"logS":8.22},
{"logA":9.225,"logS":7.0},{"logA":9.225,"logS":7.15},{"logA":9.225,"logS":7.3},{"logA":9.225,"logS":7.45},{"logA":9.225,"logS":7.6},{"logA":9.225,"logS":7.75},{"logA":9.225,"logS":7.9},{"logA":9.225,"logS":8.05},{"logA":9.225,"logS":8.2},
{"logA":9.275,"logS":7.14},{"logA":9.275,"logS":7.29},{"logA":9.275,"logS":7.44},{"logA":9.275,"logS":7.59},{"logA":9.275,"logS":7.74},{"logA":9.275,"logS":7.89},{"logA":9.275,"logS":8.04},{"logA":9.275,"logS":8.19},
{"logA":9.325,"logS":7.12},{"logA":9.325,"logS":7.27},{"logA":9.325,"logS":7.42},{"logA":9.325,"logS":7.57},{"logA":9.325,"logS":7.72},{"logA":9.325,"logS":7.87},{"logA":9.325,"logS":8.02},{"logA":9.325,"logS":8.17},
{"logA":9.375,"logS":7.25},{"logA":9.375,"logS":7.4},{"logA":9.375,"logS":7.55},{"logA":9.375,"logS":7.7},{"logA":9.375,"logS":7.85},{"logA":9.375,"logS":8.0},{"logA":9.375,"logS":8.15},
{"logA":9.425,"logS":7.23},{"logA":9.425,"logS":7.38},{"logA":9.425,"logS":7.53},{"logA":9.425,"logS":7.68},{"logA":9.425,"logS":7.83},{"logA":9.425,"logS":7.98},{"logA":9.425,"logS":8.13},
{"logA":9.475,"logS":7.36},{"logA":9.475,"logS":7.51},{"logA":9.475,"logS":7.66},{"logA":9.475,"logS":7.81},{"logA":9.475,"logS":7.96},{"logA":9.475,"logS":8.11},
{"logA":9.525,"logS":7.38},{"logA":9.525,"logS":7.53},{"logA":9.525,"logS":7.68},{"logA":9.525,"logS":7.83},{"logA":9.525,"logS":7.98},{"logA":9.525,"logS":8.13},
{"logA":9.575,"logS":7.5},{"logA":9.575,"logS":7.65},{"logA":9.575,"logS":7.8},{"logA":9.575,"logS":7.95},{"logA":9.575,"logS":8.1},
{"logA":9.625,"logS":7.53},{"logA":9.625,"logS":7.68},{"logA":9.625,"logS":7.83},{"logA":9.625,"logS":7.98},{"logA":9.625,"logS":8.13},
{"logA":9.675,"logS":7.67},{"logA":9.675,"logS":7.82},{"logA":9.675,"logS":7.97},{"logA":9.675,"logS":8.12},
{"logA":9.725,"logS":7.66},{"logA":9.725,"logS":7.81},{"logA":9.725,"logS":7.96},
{"logA":9.775,"logS":7.8},{"logA":9.775,"logS":7.95},
{"logA":9.825,"logS":7.78},{"logA":9.825,"logS":7.93}
]
},
"layer": [
{
  "data": {"name": "energy"},
  "mark": {"type": "point", "shape": "circle", "filled": false, "stroke": "#000", "strokeWidth": 1.1, "size": 155, "opacity": 1},
  "encoding": {
    "x": {"field": "logA", "type": "quantitative", "scale": {"domain": [0, 12], "nice": false, "zero": false},
      "axis": {"orient": "bottom", "values": [0, 2, 4, 6, 8, 10, 12], "ticks": false, "labelExpr": "'10'", "labelFontWeight": "bold", "labelFontSize": 13, "labelPadding": 25, "labelOffset": -4, "labelAlign": "center", "labelBaseline": "top", "grid": true, "gridDash": [1, 3], "gridColor": "#000", "gridOpacity": 1, "gridWidth": 1, "title": "Acoustic Energy BDF (Joules)", "titleFontSize": 17, "titleY": 55.5, "titleBaseline": "middle"}},
    "y": {"field": "logS", "type": "quantitative", "scale": {"domain": [-5, 20], "nice": false, "zero": false},
      "axis": {"orient": "left", "values": [-5, 0, 5, 10, 15, 20], "ticks": false, "labelExpr": "'10'", "labelFontWeight": "bold", "labelFontSize": 13, "labelPadding": 25, "labelAlign": "right", "labelBaseline": "middle", "labelOffset": 2, "grid": true, "gridDash": [1, 3], "gridColor": "#000", "gridOpacity": 1, "gridWidth": 1, "title": "Seismic Energy BHZ (Joules)", "titleFontSize": 17, "titleX": -68.5, "titleY": 335, "titleAngle": -90, "titleAlign": "center", "titleBaseline": "middle"}}
  }
},
{
  "data": {"name": "vasr_lines"},
  "mark": {"type": "line", "stroke": "#000", "strokeWidth": 1},
  "encoding": {
    "x": {"field": "logA", "type": "quantitative", "scale": {"domain": [0, 12], "nice": false, "zero": false},
      "axis": {"orient": "bottom", "values": [0, 2, 4, 6, 8, 10, 12], "ticks": false, "labelExpr": "'' + datum.value", "labelFontWeight": "normal", "labelFontSize": 12, "labelPadding": 11, "labelOffset": 6, "labelAlign": "left", "labelBaseline": "top", "grid": false, "title": null}},
    "y": {"field": "logS", "type": "quantitative", "scale": {"domain": [-5, 20], "nice": false, "zero": false},
      "axis": {"orient": "left", "values": [-5, 0, 5, 10, 15, 20], "ticks": false, "labelExpr": "'' + datum.value", "labelFontWeight": "normal", "labelFontSize": 12, "labelPadding": 23, "labelAlign": "left", "labelBaseline": "middle", "labelOffset": -13, "grid": false, "title": null}},
    "strokeDash": {"field": "vasr", "type": "nominal",
      "scale": {"domain": [0.0001, 0.001, 0.01, 0.1, 1, 10, 100, 1000, 10000, 100000], "range": [[1, 0], [8, 5], [8, 4, 2, 4], [1, 0], [8, 5], [8, 4, 2, 4], [1, 0], [8, 5], [8, 4, 2, 4], [1, 0]]},
      "legend": {"orient": "top-left", "offset": 10, "title": null, "symbolType": "stroke", "symbolSize": 3721, "symbolStrokeWidth": 1, "symbolStrokeColor": "#000", "labelFontSize": 16, "labelFontWeight": "bold", "labelOffset": 8, "clipHeight": 14, "rowPadding": 10.75, "padding": 11, "strokeColor": "#000", "fillColor": "#fff", "cornerRadius": 0, "labelLimit": 300, "labelExpr": "datum.value == 0.0001 ? 'VASR = 0.0001' : datum.label"}}
  }
},
{
  "data": {"name": "vasr_lines"},
  "mark": {"type": "line", "strokeOpacity": 0},
  "encoding": {
    "x": {"field": "logA", "type": "quantitative", "scale": {"domain": [0, 12], "nice": false, "zero": false},
      "axis": {"orient": "bottom", "values": [0, 2, 4, 6, 8, 10, 12], "ticks": true, "tickSize": -10, "tickColor": "#000", "tickWidth": 1, "labels": false, "grid": false, "title": null}},
    "y": {"field": "logS", "type": "quantitative", "scale": {"domain": [-5, 20], "nice": false, "zero": false},
      "axis": {"orient": "left", "values": [-5, 0, 5, 10, 15, 20], "ticks": true, "tickSize": -10, "tickColor": "#000", "tickWidth": 1, "labels": false, "grid": false, "title": null}},
    "detail": {"field": "vasr", "type": "nominal"}
  }
},
{
  "data": {"name": "vasr_lines"},
  "mark": {"type": "line", "strokeOpacity": 0},
  "encoding": {
    "x": {"field": "logA", "type": "quantitative", "scale": {"domain": [0, 12], "nice": false, "zero": false},
      "axis": {"orient": "top", "values": [0, 2, 4, 6, 8, 10, 12], "ticks": true, "tickSize": -10, "tickColor": "#000", "tickWidth": 1, "labels": false, "grid": false, "title": null}},
    "y": {"field": "logS", "type": "quantitative", "scale": {"domain": [-5, 20], "nice": false, "zero": false},
      "axis": {"orient": "right", "values": [-5, 0, 5, 10, 15, 20], "ticks": true, "tickSize": -10, "tickColor": "#000", "tickWidth": 1, "labels": false, "grid": false, "title": null}},
    "detail": {"field": "vasr", "type": "nominal"}
  }
}
],
"resolve": {"axis": {"x": "independent", "y": "independent"}}
}
